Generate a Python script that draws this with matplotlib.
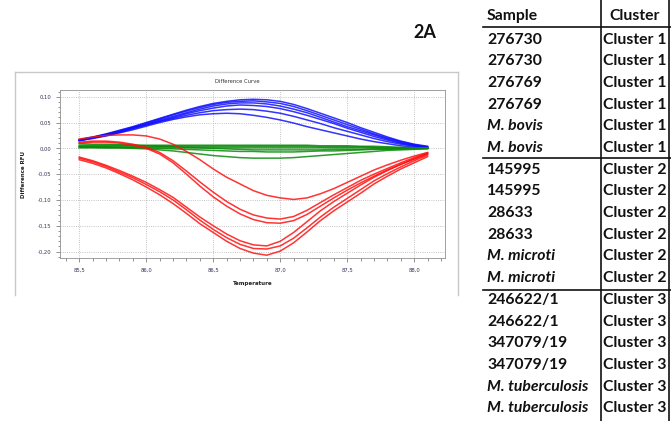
import matplotlib.pyplot as plt
import numpy as np

# temperatures (deg C), 0.1 step
temps = [85.5, 85.6, 85.7, 85.8, 85.9, 86.0, 86.1, 86.2, 86.3, 86.4, 86.5, 86.6, 86.7, 86.8,
         86.9, 87.0, 87.1, 87.2, 87.3, 87.4, 87.5, 87.6, 87.7, 87.8, 87.9, 88.0, 88.1]

# blue curves (cluster peaking above zero)
blue_1 = [0.017, 0.022, 0.028, 0.035, 0.042, 0.050, 0.058, 0.066, 0.074, 0.081, 0.087, 0.091, 0.094, 0.095,
          0.094, 0.091, 0.085, 0.077, 0.068, 0.059, 0.050, 0.040, 0.031, 0.022, 0.014, 0.008, 0.004]
blue_2 = [0.016, 0.021, 0.027, 0.034, 0.041, 0.049, 0.057, 0.065, 0.072, 0.079, 0.085, 0.089, 0.091, 0.092,
          0.090, 0.087, 0.081, 0.073, 0.064, 0.055, 0.046, 0.037, 0.028, 0.020, 0.013, 0.007, 0.003]
blue_3 = [0.016, 0.021, 0.027, 0.033, 0.040, 0.047, 0.055, 0.062, 0.069, 0.076, 0.082, 0.086, 0.088, 0.088,
          0.086, 0.082, 0.076, 0.069, 0.060, 0.051, 0.042, 0.034, 0.026, 0.018, 0.011, 0.006, 0.002]
blue_4 = [0.015, 0.020, 0.026, 0.032, 0.039, 0.046, 0.053, 0.060, 0.067, 0.073, 0.078, 0.082, 0.084, 0.083,
          0.081, 0.077, 0.071, 0.064, 0.056, 0.048, 0.039, 0.031, 0.023, 0.016, 0.010, 0.005, 0.002]
blue_5 = [0.015, 0.020, 0.025, 0.031, 0.038, 0.045, 0.052, 0.058, 0.064, 0.069, 0.073, 0.075, 0.076, 0.075,
          0.072, 0.068, 0.062, 0.055, 0.048, 0.040, 0.033, 0.026, 0.019, 0.013, 0.008, 0.004, 0.001]
blue_6 = [0.015, 0.019, 0.024, 0.030, 0.036, 0.043, 0.050, 0.056, 0.061, 0.065, 0.067, 0.068, 0.067, 0.064,
          0.060, 0.055, 0.049, 0.042, 0.036, 0.030, 0.024, 0.018, 0.013, 0.009, 0.005, 0.002, 0.001]

# green curves (near zero)
green_1 = [0.006, 0.006, 0.006, 0.006, 0.006, 0.006, 0.006, 0.006, 0.006, 0.006, 0.006, 0.006, 0.006, 0.006,
           0.006, 0.006, 0.006, 0.006, 0.005, 0.005, 0.005, 0.004, 0.004, 0.003, 0.002, 0.001, 0.001]
green_2 = [0.004, 0.004, 0.004, 0.004, 0.004, 0.004, 0.004, 0.004, 0.004, 0.004, 0.004, 0.004, 0.004, 0.004,
           0.004, 0.004, 0.004, 0.004, 0.003, 0.003, 0.003, 0.003, 0.002, 0.002, 0.001, 0.001, 0.000]
green_3 = [0.001, 0.001, 0.001, 0.001, 0.001, 0.001, 0.001, 0.001, 0.001, 0.001, 0.001, 0.001, 0.001, 0.001,
           0.001, 0.001, 0.001, 0.001, 0.001, 0.001, 0.001, 0.001, 0.001, 0.000, 0.000, 0.000, 0.000]
green_4 = [0.009, 0.008, 0.008, 0.007, 0.006, 0.005, 0.004, 0.003, 0.002, 0.001, 0.000, -0.001, -0.002, -0.003,
           -0.003, -0.003, -0.003, -0.003, -0.003, -0.002, -0.002, -0.002, -0.001, -0.001, -0.001, 0.000, 0.000]
green_5 = [0.003, 0.003, 0.003, 0.002, 0.002, 0.001, 0.000, -0.001, -0.002, -0.003, -0.004, -0.005, -0.006, -0.006,
           -0.007, -0.007, -0.007, -0.006, -0.005, -0.005, -0.004, -0.003, -0.002, -0.002, -0.001, -0.001, 0.000]
green_6 = [0.002, 0.002, 0.001, 0.001, 0.000, -0.001, -0.003, -0.005, -0.008, -0.011, -0.014, -0.016, -0.018, -0.019,
           -0.019, -0.019, -0.018, -0.016, -0.014, -0.012, -0.010, -0.008, -0.006, -0.004, -0.003, -0.002, -0.001]

# red curves (dipping below zero)
red_1 = [0.018, 0.022, 0.025, 0.026, 0.026, 0.024, 0.018, 0.008, -0.006, -0.022, -0.040, -0.056, -0.069, -0.082,
         -0.091, -0.096, -0.099, -0.096, -0.088, -0.078, -0.066, -0.054, -0.042, -0.032, -0.023, -0.015, -0.008]
red_2 = [0.012, 0.014, 0.014, 0.012, 0.008, 0.002, -0.008, -0.024, -0.044, -0.065, -0.085, -0.103, -0.118, -0.129,
         -0.135, -0.137, -0.132, -0.120, -0.105, -0.090, -0.076, -0.062, -0.050, -0.039, -0.028, -0.018, -0.009]
red_3 = [0.010, 0.012, 0.012, 0.010, 0.006, 0.000, -0.011, -0.028, -0.050, -0.073, -0.094, -0.112, -0.127, -0.138,
         -0.144, -0.145, -0.140, -0.128, -0.112, -0.096, -0.081, -0.067, -0.054, -0.042, -0.031, -0.021, -0.011]
red_4 = [-0.017, -0.024, -0.033, -0.043, -0.054, -0.066, -0.080, -0.095, -0.114, -0.133, -0.150, -0.166, -0.179, -0.187,
         -0.189, -0.180, -0.163, -0.142, -0.121, -0.103, -0.087, -0.071, -0.056, -0.043, -0.031, -0.020, -0.010]
red_5 = [-0.019, -0.026, -0.035, -0.046, -0.057, -0.070, -0.084, -0.100, -0.119, -0.139, -0.157, -0.173, -0.186, -0.194,
         -0.195, -0.189, -0.174, -0.154, -0.133, -0.114, -0.097, -0.080, -0.063, -0.049, -0.036, -0.024, -0.013]
red_6 = [-0.022, -0.029, -0.038, -0.049, -0.061, -0.075, -0.090, -0.107, -0.126, -0.146, -0.163, -0.180, -0.194, -0.203,
         -0.207, -0.199, -0.183, -0.162, -0.140, -0.121, -0.104, -0.087, -0.069, -0.054, -0.040, -0.028, -0.016]

blue_curves = [blue_1, blue_2, blue_3, blue_4, blue_5, blue_6]
green_curves = [green_1, green_2, green_3, green_4, green_5, green_6]
red_curves = [red_1, red_2, red_3, red_4, red_5, red_6]

# table on the right
samples = ['276730', '276730', '276769', '276769', 'M. bovis', 'M. bovis',
           '145995', '145995', '28633', '28633', 'M. microti', 'M. microti',
           '246622/1', '246622/1', '347079/19', '347079/19', 'M. tuberculosis', 'M. tuberculosis']
clusters = ['Cluster 1'] * 6 + ['Cluster 2'] * 6 + ['Cluster 3'] * 6

x_ticks = [85.5, 86.0, 86.5, 87.0, 87.5, 88.0]
y_ticks = [-0.20, -0.15, -0.10, -0.05, 0.00, 0.05, 0.10]

W, H = 671, 421
fig = plt.figure(figsize=(W / 100, H / 100), dpi=100)
fig.patch.set_facecolor('white')

def fx(px):
    return px / W

def fy(py):
    return 1 - py / H

# screenshot frame around the chart
frame_col = '#c8c8c8'
fig.add_artist(plt.Line2D([fx(15), fx(15)], [fy(72), fy(295)], color=frame_col, lw=1.0))
fig.add_artist(plt.Line2D([fx(15), fx(458)], [fy(72), fy(72)], color=frame_col, lw=1.0))
fig.add_artist(plt.Line2D([fx(458), fx(458)], [fy(72), fy(295)], color=frame_col, lw=1.0))

ax = fig.add_axes([fx(60), fy(258.3), fx(445) - fx(60), fy(90) - fy(258.3)])
for c in blue_curves:
    ax.plot(temps, c, color='#1010ff', lw=1.1, alpha=0.85)
for c in green_curves:
    ax.plot(temps, c, color='#0a8a0a', lw=1.1, alpha=0.85)
for c in red_curves:
    ax.plot(temps, c, color='#ff1010', lw=1.1, alpha=0.85)

ax.set_xlim(85.356, 88.23)
ax.set_ylim(-0.213, 0.113)
ax.set_xticks(x_ticks)
ax.set_yticks(y_ticks)
ax.set_xticks(np.arange(85.4, 88.25, 0.1), minor=True)
ax.set_yticks(np.arange(-0.21, 0.115, 0.01), minor=True)
ax.set_xticklabels([f'{t:.1f}'.replace('.', ',') for t in x_ticks])
ax.set_yticklabels([f'{t:.2f}'.replace('.', ',') for t in y_ticks])
ax.tick_params(which='both', labelsize=3.8, labelcolor='#333355', color='#666666', width=0.5)
ax.tick_params(which='major', length=3, direction='out')
ax.tick_params(which='minor', length=1.8, direction='out')
ax.grid(True, which='major', linestyle=':', color='#b0b0b0', lw=0.6)
for s in ax.spines.values():
    s.set_color('#909090')
    s.set_linewidth(0.6)
ax.set_xlabel('Temperature', fontsize=4, color='#222222', labelpad=6, fontweight='bold')
ax.set_ylabel('Difference RFU', fontsize=4, color='#222222', labelpad=8, fontweight='bold')
fig.text(fx(237), fy(81.5), 'Difference Curve', fontsize=3.8, color='#333333',
         ha='center', va='center')

# panel label
fig.text(fx(425), fy(32), '2A', fontsize=13, fontweight='bold', family='Lato',
         ha='center', va='center', color='#111111')

# table
tab_font = dict(family='Lato', fontweight='bold', fontsize=11.3, color='#111111', va='center')
fig.text(fx(487), fy(16), 'Sample', ha='left', **tab_font)
fig.text(fx(635), fy(16), 'Cluster', ha='center', **tab_font)
row0, row_h = 39.5, 21.7
for i, (s, c) in enumerate(zip(samples, clusters)):
    y = fy(row0 + i * row_h)
    style = 'italic' if s.startswith('M.') else 'normal'
    fig.text(fx(487), y, s, ha='left', fontstyle=style, **tab_font)
    fig.text(fx(603), y, c, ha='left', **tab_font)

line_kw = dict(color='#111111', lw=1.2)
fig.add_artist(plt.Line2D([fx(483), fx(671)], [fy(27), fy(27)], **line_kw))
fig.add_artist(plt.Line2D([fx(483), fx(671)], [fy(157.5), fy(157.5)], **line_kw))
fig.add_artist(plt.Line2D([fx(483), fx(671)], [fy(289.5), fy(289.5)], **line_kw))
fig.add_artist(plt.Line2D([fx(601), fx(601)], [fy(0), fy(421)], **line_kw))
fig.add_artist(plt.Line2D([fx(669), fx(669)], [fy(0), fy(421)], **line_kw))

fig.savefig('out.png', dpi=100)
